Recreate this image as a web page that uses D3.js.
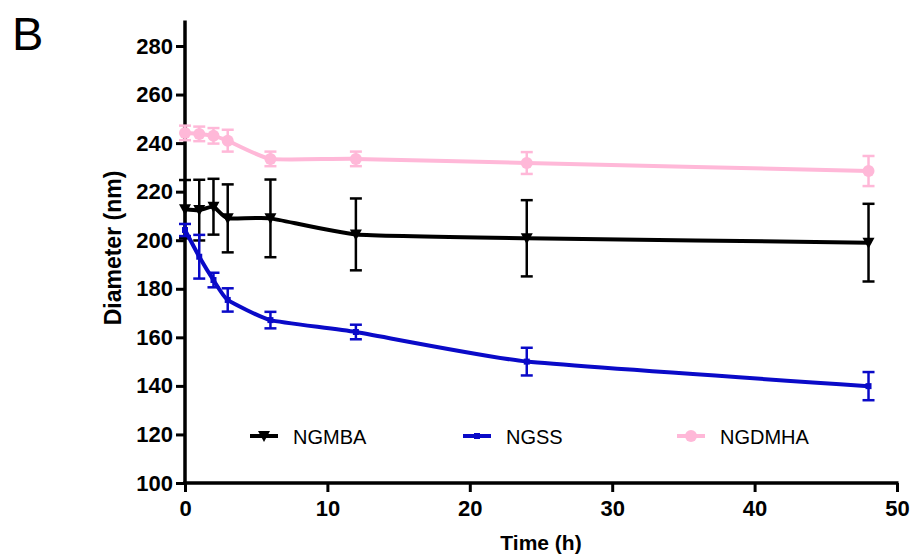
<!DOCTYPE html>
<html><head><meta charset="utf-8">
<script src="https://cdn.jsdelivr.net/npm/d3@7/dist/d3.min.js"></script>
<style>body{margin:0;background:#fff}svg{display:block}</style>
</head><body><svg id="c" width="917" height="558"></svg>
<script>
const times = [0, 1, 2, 3, 6, 12, 24, 48];
const ngmba = [212.8, 212.4, 213.8, 209, 209, 202.4, 200.8, 199];
const ngmbaErr = [12, 12.5, 11.5, 14, 16, 14.8, 15.7, 16];
const ngss = [204.2, 193.2, 183.6, 175.4, 167.1, 162.2, 150, 139.9];
const ngssErr = [2.5, 9, 3, 4.8, 3.4, 3, 5.7, 5.8];
const ngdmha = [244.2, 243.8, 243, 241, 233.5, 233.5, 231.8, 228.5];
const ngdmhaErr = [3, 3, 3.2, 4.5, 3, 3, 4.5, 6.2];
const yTicks = [100, 120, 140, 160, 180, 200, 220, 240, 260, 280];
const xTicks = [0, 10, 20, 30, 40, 50];
const seriesNames = ["NGMBA", "NGSS", "NGDMHA"];
const colors = ["#000000", "#0a0ac8", "#ffb8d8"];

const svg = d3.select("#c");
const x = d3.scaleLinear().domain([0, 50]).range([185, 897]);
const y = d3.scaleLinear().domain([100, 280]).range([483, 46]);
const font = "Arial, 'Liberation Sans', sans-serif";

// axes
const yAxis = svg.append("g").attr("transform", "translate(185,0)")
  .call(d3.axisLeft(y).tickValues(yTicks).tickSize(9).tickPadding(3));
yAxis.select(".domain").remove();
yAxis.append("line").attr("x1", 0).attr("x2", 0).attr("y1", y(290.5)).attr("y2", y(100) + 1.75)
  .attr("stroke", "#000").attr("stroke-width", 3.5);
yAxis.selectAll(".tick line").attr("stroke-width", 3);
yAxis.selectAll(".tick text").attr("font-family", font).attr("font-weight", "bold")
  .attr("font-size", 22).attr("fill", "#000");

const xAxis = svg.append("g").attr("transform", "translate(0,483)")
  .call(d3.axisBottom(x).tickValues(xTicks).tickSize(9).tickPadding(8));
xAxis.select(".domain").remove();
xAxis.append("line").attr("x1", x(0) - 1.75).attr("x2", x(50) + 1.5).attr("y1", 0).attr("y2", 0)
  .attr("stroke", "#000").attr("stroke-width", 3.5);
xAxis.selectAll(".tick line").attr("stroke-width", 3);
xAxis.selectAll(".tick text").attr("font-family", font).attr("font-weight", "bold")
  .attr("font-size", 22).attr("fill", "#000");

// titles
svg.append("text").attr("x", 12).attr("y", 50).attr("font-family", font)
  .attr("font-size", 47).text("B");
svg.append("text").attr("transform", "translate(121,248) rotate(-90)")
  .attr("text-anchor", "middle").attr("font-family", font).attr("font-weight", "bold")
  .attr("font-size", 23).text("Diameter (nm)");
svg.append("text").attr("x", 541).attr("y", 550)
  .attr("text-anchor", "middle").attr("font-family", font).attr("font-weight", "bold")
  .attr("font-size", 21).text("Time (h)");

const series = [
  { vals: ngmba, err: ngmbaErr },
  { vals: ngss, err: ngssErr },
  { vals: ngdmha, err: ngdmhaErr }
];
const line = d3.line().curve(d3.curveCardinal.tension(0.55));

function marker(g, i, cx, cy) {
  const c = colors[i];
  if (i === 0) {
    g.append("path").attr("d", `M${cx - 6},${cy - 5}L${cx + 6},${cy - 5}L${cx},${cy + 6}Z`).attr("fill", c);
  } else if (i === 1) {
    g.append("rect").attr("x", cx - 3).attr("y", cy - 3).attr("width", 6).attr("height", 6).attr("fill", c);
  } else {
    g.append("circle").attr("cx", cx).attr("cy", cy).attr("r", 6).attr("fill", c);
  }
}

// draw order: pink, black, blue
[2, 0, 1].forEach(i => {
  const s = series[i];
  const g = svg.append("g");
  const c = colors[i];
  times.forEach((t, k) => {
    const cx = x(t), y1 = y(s.vals[k] + s.err[k]), y2 = y(s.vals[k] - s.err[k]);
    g.append("line").attr("x1", cx).attr("x2", cx).attr("y1", y1).attr("y2", y2)
      .attr("stroke", c).attr("stroke-width", 2.5);
    [y1, y2].forEach(yy => g.append("line").attr("x1", cx - 6).attr("x2", cx + 6)
      .attr("y1", yy).attr("y2", yy).attr("stroke", c).attr("stroke-width", 2.5));
  });
  g.append("path").attr("d", line(times.map((t, k) => [x(t), y(s.vals[k])])))
    .attr("fill", "none").attr("stroke", c).attr("stroke-width", 4);
  times.forEach((t, k) => marker(g, i, x(t), y(s.vals[k])));
});

// legend
const legX = [250, 463, 677];
seriesNames.forEach((name, i) => {
  const g = svg.append("g");
  const ly = 436;
  g.append("line").attr("x1", legX[i]).attr("x2", legX[i] + 28).attr("y1", ly).attr("y2", ly)
    .attr("stroke", colors[i]).attr("stroke-width", 4);
  marker(g, i, legX[i] + 14, ly);
  g.append("text").attr("x", legX[i] + 43).attr("y", ly + 7.5).attr("font-family", font)
    .attr("font-size", 20).attr("fill", "#000").text(name);
});
</script></body></html>
